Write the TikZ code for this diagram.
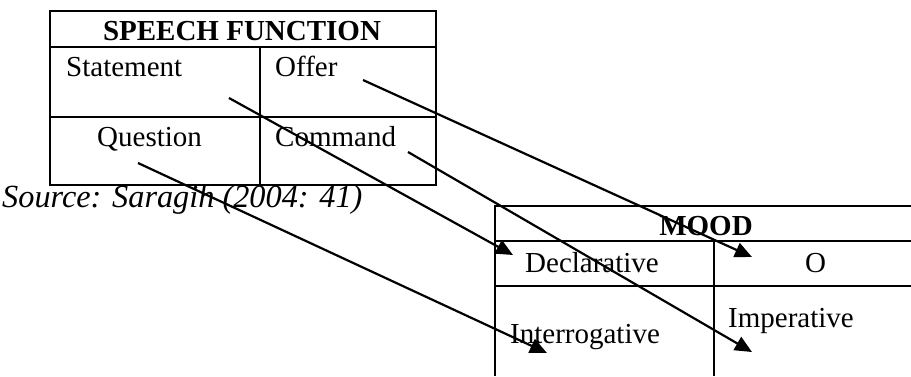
\documentclass[tikz,border=0pt]{standalone}
\usepackage{fontspec}
\setmainfont{Liberation Serif}
\usetikzlibrary{arrows.meta}
\begin{document}
\begin{tikzpicture}[x=1pt,y=-1pt,
  rule/.style={line width=2.2pt},
  lbl/.style={inner sep=0pt,anchor=base west,font=\fontsize{29}{34}\selectfont},
  hdr/.style={inner sep=0pt,anchor=base,font=\fontsize{29}{34}\selectfont\bfseries},
  link/.style={line width=2.2pt,-{Triangle[length=17pt,width=15pt]}}]
\useasboundingbox (0,0) rectangle (911,376);
% SPEECH FUNCTION table
\draw[rule] (50,11) rectangle (436,185);
\draw[rule] (50,47) -- (436,47);
\draw[rule] (50,117) -- (436,117);
\draw[rule] (260,47) -- (260,185);
\node[hdr] (sf) at (242,40) {SPEECH FUNCTION};
\node[lbl] (statement) at (66,76) {Statement};
\node[lbl] (offer) at (275,76) {Offer};
\node[lbl] (question) at (97,146) {Question};
\node[lbl] (command) at (275,146) {Command};
\node[inner sep=0pt,anchor=base west,font=\fontsize{32.3}{37}\selectfont\itshape] (src) at (2,207) {Source: Saragih (2004: 41)};
% MOOD table
\draw[rule] (911,206) -- (495,206) -- (495,376);
\draw[rule] (495,241) -- (911,241);
\draw[rule] (495,286) -- (911,286);
\draw[rule] (714,241) -- (714,376);
\node[hdr] (mood) at (706,235) {MOOD};
\node[lbl] (decl) at (525,272) {Declarative};
\node[lbl] (o) at (805,272) {O};
\node[lbl] (imp) at (728,327) {Imperative};
\node[lbl] (interr) at (510,343) {Interrogative};
% connectors
\coordinate (s1) at (229,98);
\coordinate (e1) at (513,255);
\coordinate (s2) at (363,80);
\coordinate (e2) at (752,257);
\coordinate (s3) at (138,163);
\coordinate (e3) at (547,353);
\coordinate (s4) at (408,152);
\coordinate (e4) at (752,352);
\draw[link] (s1) -- (e1);
\draw[link] (s2) -- (e2);
\draw[link] (s3) -- (e3);
\draw[link] (s4) -- (e4);
\end{tikzpicture}
\end{document}
